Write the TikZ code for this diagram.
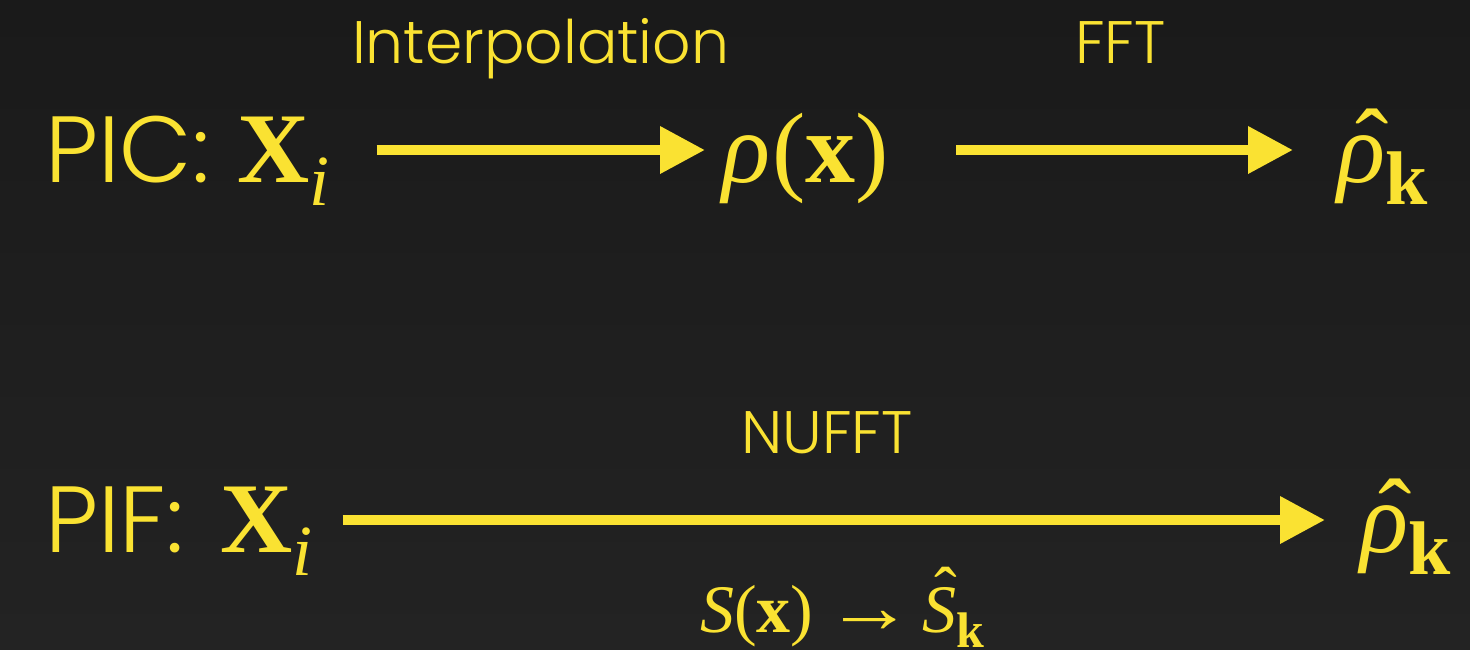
\documentclass[tikz,border=0pt]{standalone}
\usepackage{graphicx}
\usepackage{fontspec}
\setmainfont{Poppins}[UprightFont=* Light]
\newfontfamily\tms{Liberation Serif}
\usetikzlibrary{arrows.meta,calc}
\definecolor{ylw}{RGB}{250,226,50}
\definecolor{bgtop}{RGB}{26,26,26}
\definecolor{bgbot}{RGB}{35,35,35}
\newcommand\bX{{\tms\bfseries X}}
\newcommand\subi{\raisebox{-23pt}{\tms\itshape\fontsize{72}{72}\selectfont i}}
\newcommand\subk{\raisebox{-22pt}{\tms\bfseries\fontsize{76}{76}\selectfont k}}
\newcommand\rhohat{\makebox[0pt][l]{\hspace{18pt}\raisebox{4pt}{\tms ˆ}}{\tms\itshape ρ}}
\begin{document}
\begin{tikzpicture}[x=1pt,y=-1pt,
  lbl/.style={font=\fontsize{60}{66}\selectfont, text=ylw, inner sep=0pt, anchor=base west},
  big/.style={font=\fontsize{94}{100}\selectfont, text=ylw, inner sep=0pt, anchor=base west},
  mth/.style={font=\tms\fontsize{100}{110}\selectfont, text=ylw, inner sep=0pt, anchor=base west},
  smth/.style={font=\tms\fontsize{68}{74}\selectfont, text=ylw, inner sep=0pt, anchor=base west},
  arr/.style={draw=ylw, line width=10pt, -{Triangle[length=45pt,width=45pt]}}]
\shade[top color=bgtop, bottom color=bgbot] (0,0) rectangle (1470,649);
\useasboundingbox (0,0) rectangle (1470,649);
% row 1
\node[big] (pic) at (45,182) {PIC:};
\node[mth] (xi1) at (237,182) {\bX\subi};
\node[mth] (rho1) at (722,182) {{\itshape ρ}\kern2pt({\bfseries x})};
\node[mth] (rhok1) at (1337,182) {\rhohat\subk};
\node[lbl] (interp) at (352,63) {Interpolation};
\node[lbl] (fft) at (1075,63) {FFT};
\draw[arr] ($(xi1.base east)+(47,-32)$) -- ($(rho1.base west)+(-17,-32)$);
\draw[arr] ($(rho1.base east)+(67,-32)$) -- ($(rhok1.base west)+(-44,-32)$);
% row 2
\node[big] (pif) at (45,552) {PIF:};
\node[mth] (xi2) at (220,552) {\bX\subi};
\node[mth] (rhok2) at (1360,552) {\rhohat\subk};
\node[lbl] (nufft) at (741,453) {NUFFT};
\node[smth] (sx) at (700,632) {{\itshape S}({\bfseries x})\hspace{12pt}\scalebox{1.3}[1.1]{→}\hspace{9pt}\makebox[0pt][l]{\hspace{12pt}\raisebox{18pt}{ˆ}}{\itshape S}\raisebox{-15pt}{\bfseries\fontsize{50}{50}\selectfont k}};
\draw[arr] ($(xi2.base east)+(30,-32)$) -- ($(rhok2.base west)+(-35,-32)$);
\end{tikzpicture}
\end{document}
